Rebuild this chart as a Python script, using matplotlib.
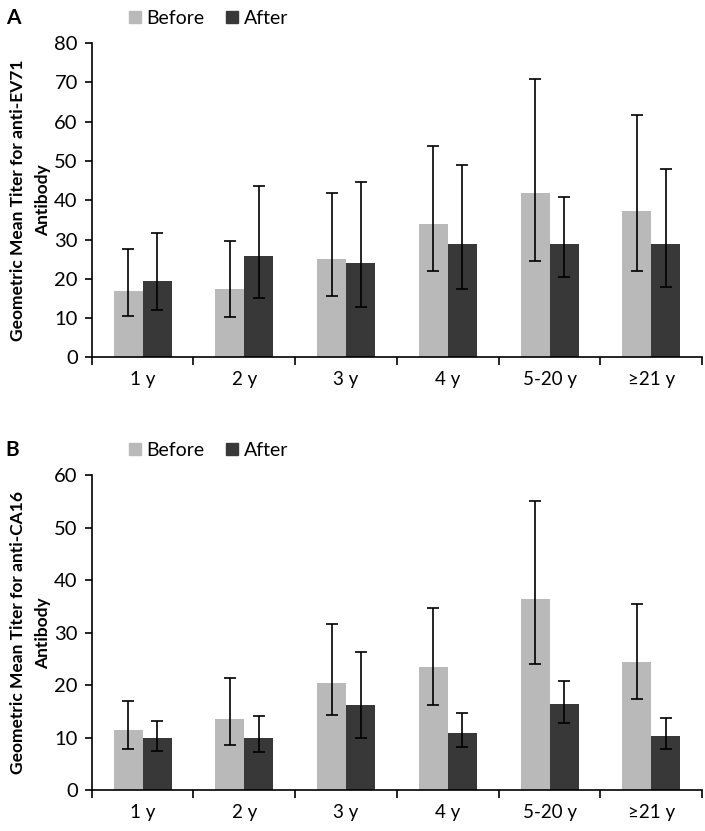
import numpy as np
import matplotlib.pyplot as plt
from matplotlib.patches import Patch

plt.rcParams["font.family"] = ["Lato", "DejaVu Sans"]

# -----------------------------
# Data
# -----------------------------
age_groups = ["1 y", "2 y", "3 y", "4 y", "5-20 y", "\u226521 y"]

ev71_before = [17.0, 17.3, 25.1, 34.0, 41.8, 37.2]
ev71_before_low = [10.4, 10.3, 15.5, 21.9, 24.6, 21.9]
ev71_before_high = [27.6, 29.6, 41.9, 53.7, 70.9, 61.8]
ev71_after = [19.5, 25.7, 23.9, 28.9, 28.9, 28.9]
ev71_after_low = [12.0, 15.1, 12.8, 17.4, 20.4, 17.8]
ev71_after_high = [31.7, 43.7, 44.7, 48.9, 40.9, 48.0]

ca16_before = [11.5, 13.5, 20.5, 23.5, 36.4, 24.5]
ca16_before_low = [7.9, 8.7, 14.4, 16.2, 24.0, 17.4]
ca16_before_high = [17.0, 21.4, 31.7, 34.8, 55.1, 35.5]
ca16_after = [10.0, 10.0, 16.2, 11.0, 16.5, 10.4]
ca16_after_low = [7.4, 7.2, 10.0, 8.3, 12.9, 7.9]
ca16_after_high = [13.2, 14.1, 26.4, 14.8, 20.9, 13.8]

BEFORE_COLOR = "#b9b9b9"
AFTER_COLOR = "#383838"

fig = plt.figure(figsize=(7.05, 8.31), dpi=100)


def draw_panel(rect, before, b_lo, b_hi, after, a_lo, a_hi,
               ymax, ylabel, letter, legend_y):
    ax = fig.add_axes(rect)
    x = np.arange(len(age_groups))
    w = 0.285

    before = np.array(before)
    after = np.array(after)
    b_err = [before - np.array(b_lo), np.array(b_hi) - before]
    a_err = [after - np.array(a_lo), np.array(a_hi) - after]

    err_kw = dict(ecolor="black", elinewidth=1.2, capsize=4, capthick=1.2)
    ax.bar(x - w / 2, before, w, color=BEFORE_COLOR,
           yerr=b_err, error_kw=err_kw)
    ax.bar(x + w / 2, after, w, color=AFTER_COLOR,
           yerr=a_err, error_kw=err_kw)

    ax.set_xlim(-0.5, len(age_groups) - 0.5)
    ax.set_ylim(0, ymax)
    ax.set_yticks(np.arange(0, ymax + 1, 10))
    ax.set_xticks(x)
    ax.set_xticklabels(age_groups, fontsize=13.5)
    ax.set_xticks(np.arange(-0.5, len(age_groups)), minor=True)
    ax.tick_params(axis="x", which="major", length=0, pad=10)
    ax.tick_params(axis="x", which="minor", length=6, width=1.2)
    ax.tick_params(axis="y", labelsize=14.5, length=5, width=1.2, pad=5)

    for side in ["top", "right"]:
        ax.spines[side].set_visible(False)
    for side in ["left", "bottom"]:
        ax.spines[side].set_linewidth(1.2)

    ax.set_ylabel(ylabel, fontsize=12.5, fontweight="bold",
                  linespacing=1.75)
    ax.yaxis.set_label_coords(-0.066, 0.5)

    fig.text(0.008, legend_y, letter, fontsize=15, fontweight="bold",
             va="center", ha="left")

    handles = [Patch(color=BEFORE_COLOR, label="Before"),
               Patch(color=AFTER_COLOR, label="After")]
    fig.legend(handles=handles, loc="center left",
               bbox_to_anchor=(0.172, legend_y), ncol=2, frameon=False,
               fontsize=14, handlelength=0.6, handleheight=0.6,
               handletextpad=0.3, columnspacing=1.1, borderaxespad=0)
    return ax


draw_panel([0.130, 0.570, 0.866, 0.378],
           ev71_before, ev71_before_low, ev71_before_high,
           ev71_after, ev71_after_low, ev71_after_high,
           80, "Geometric Mean Titer for anti-EV71\nAntibody", "A", 0.978)

draw_panel([0.130, 0.049, 0.866, 0.379],
           ca16_before, ca16_before_low, ca16_before_high,
           ca16_after, ca16_after_low, ca16_after_high,
           60, "Geometric Mean Titer for anti-CA16\nAntibody", "B", 0.458)

fig.savefig("out.png", dpi=100)
